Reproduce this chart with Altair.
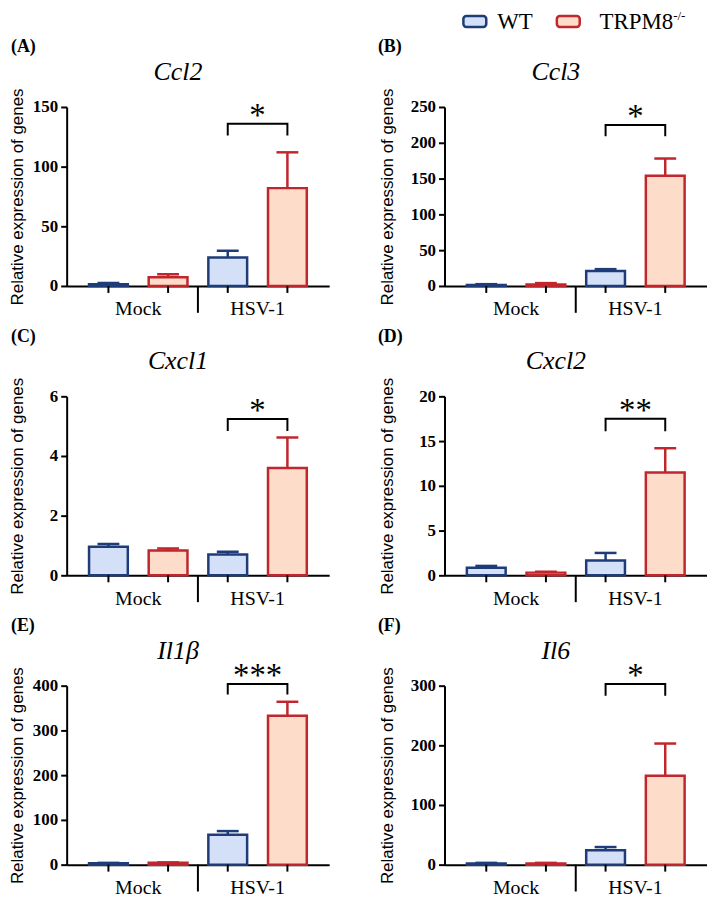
import altair as alt
import pandas as pd

# ---------------- data ----------------
genes = ["Ccl2", "Ccl3", "Cxcl1", "Cxcl2", "Il1β", "Il6"]
letters = ["(A)", "(B)", "(C)", "(D)", "(E)", "(F)"]
groups = ["Mock", "HSV-1"]
genotypes = ["WT", "TRPM8"]

wt_mock = [1.5, 1.5, 0.96, 0.85, 3, 2]
wt_mock_err = [2.5, 2.5, 1.05, 1.05, 4, 3]
trpm_mock = [7.4, 2.0, 0.83, 0.3, 4, 2]
trpm_mock_err = [9.8, 4.0, 0.9, 0.4, 5, 3]
wt_hsv = [23.8, 21, 0.7, 1.65, 67, 24]
wt_hsv_err = [29.5, 23.5, 0.79, 2.5, 75, 29.5]
trpm_hsv = [82, 154, 3.6, 11.5, 333, 149]
trpm_hsv_err = [112, 178, 4.62, 14.2, 364, 203]

y_max = [150, 250, 6, 20, 400, 300]
y_ticks = [
    [0, 50, 100, 150],
    [0, 50, 100, 150, 200, 250],
    [0, 2, 4, 6],
    [0, 5, 10, 15, 20],
    [0, 100, 200, 300, 400],
    [0, 100, 200, 300],
]
sig_labels = ["*", "*", "*", "**", "***", "*"]
sig_top = [136, 225, 5.24, 17.5, 404, 303]
sig_bottom = [126, 209, 4.84, 16.1, 380, 283]

legend_labels = ["WT", "TRPM8"]
legend_sup = "-/-"

# ---------------- style ----------------
W, H = 264, 180
TICK_PX = 7
FILL = ["#d3e0f7", "#fddcca"]
STROKE = ["#1d3c78", "#c0262c"]
SERIF = "Liberation Serif"
SANS = "Liberation Sans"


def panel(i):
    col = i % 2
    rows = [
        ("Mock", "WT", wt_mock[i], wt_mock_err[i]),
        ("Mock", "TRPM8", trpm_mock[i], trpm_mock_err[i]),
        ("HSV-1", "WT", wt_hsv[i], wt_hsv_err[i]),
        ("HSV-1", "TRPM8", trpm_hsv[i], trpm_hsv_err[i]),
    ]
    df = pd.DataFrame(rows, columns=["group", "genotype", "value", "err"])

    xscale = alt.Scale(domain=groups, paddingInner=0, paddingOuter=0.1)
    xaxis = alt.Axis(
        title=None, labelAngle=0, ticks=False, tickSize=0,
        labelFont=SERIF, labelFontSize=20, labelFontWeight="normal", labelColor="black",
        labelPadding=13, domainColor="black", domainWidth=2,
    )
    x = alt.X("group:N", scale=xscale, axis=xaxis, sort=groups)
    xo = alt.XOffset("genotype:N", sort=genotypes,
                     scale=alt.Scale(domain=genotypes, paddingInner=0.35, paddingOuter=0.175))

    title_x = -49 if col == 0 else -57
    yscale = alt.Scale(domain=[0, y_max[i]], nice=False, zero=True)
    yaxis = alt.Axis(
        values=y_ticks[i], title="Relative expression of genes",
        titleFont=SANS, titleFontSize=17, titleFontWeight="normal", titleColor="black",
        titleX=title_x, titleY=H / 2, titleAngle=270, titleAlign="center", titleBaseline="middle",
        labelFont=SERIF, labelFontWeight="bold", labelFontSize=17, labelColor="black",
        labelPadding=3, tickSize=6, tickWidth=2, tickColor="black",
        domainColor="black", domainWidth=2, grid=False,
    )

    fill = alt.Fill("genotype:N", scale=alt.Scale(domain=genotypes, range=FILL), legend=None)
    stroke = alt.Stroke("genotype:N", scale=alt.Scale(domain=genotypes, range=STROKE), legend=None)
    color = alt.Color("genotype:N", scale=alt.Scale(domain=genotypes, range=STROKE), legend=None)

    base = alt.Chart(df)
    bars = base.mark_bar(strokeWidth=2.5).encode(
        x=x, xOffset=xo, y=alt.Y("value:Q", scale=yscale, axis=yaxis), fill=fill, stroke=stroke
    )
    errline = base.mark_rule(strokeWidth=2.5).encode(
        x=x, xOffset=xo, y=alt.Y("value:Q", scale=yscale, axis=yaxis), y2="err:Q", stroke=stroke
    )
    caps = base.mark_tick(size=22, thickness=2.5, opacity=1).encode(
        x=x, xOffset=xo, y=alt.Y("err:Q", scale=yscale, axis=yaxis), color=color
    )

    # category ticks below the x axis, one under each bar
    tick_len = y_max[i] * TICK_PX / H
    trows = []
    for g in groups:
        for gt in genotypes:
            trows.append((g, gt, g + gt, 0.0, 0))
            trows.append((g, gt, g + gt, -tick_len, 1))
    tdf = pd.DataFrame(trows, columns=["group", "genotype", "key", "v", "o"])
    xticks = alt.Chart(tdf).mark_line(color="black", strokeWidth=2, clip=False).encode(
        x=x, xOffset=xo, y=alt.Y("v:Q", scale=yscale, axis=yaxis), detail="key:N", order="o:Q"
    )

    sep = alt.Chart(pd.DataFrame({"group": ["HSV-1"]})).mark_rule(strokeWidth=2, color="black").encode(
        x=alt.X("group:N", scale=xscale, axis=xaxis, bandPosition=0, sort=groups),
        y=alt.value(H), y2=alt.value(H + 27),
    )
    br = pd.DataFrame({
        "group": ["HSV-1"] * 4,
        "genotype": ["WT", "WT", "TRPM8", "TRPM8"],
        "v": [sig_bottom[i], sig_top[i], sig_top[i], sig_bottom[i]],
        "o": [0, 1, 2, 3],
    })
    bracket = alt.Chart(br).mark_line(color="black", strokeWidth=2).encode(
        x=x, xOffset=xo, y=alt.Y("v:Q", scale=yscale, axis=yaxis), order="o:Q"
    )
    sig = alt.Chart(pd.DataFrame({"group": ["HSV-1"], "v": [sig_top[i]], "t": [sig_labels[i]]})).mark_text(
        font=SERIF, fontSize=33, baseline="alphabetic", align="center", color="black", dy=2
    ).encode(x=x, y=alt.Y("v:Q", scale=yscale, axis=yaxis), text="t:N")

    letter_x = -56 if col == 0 else -67
    letter = alt.Chart(pd.DataFrame({"t": [letters[i]]})).mark_text(
        font=SERIF, fontSize=18, fontWeight="bold", align="left", baseline="middle", color="black"
    ).encode(text="t:N", x=alt.value(letter_x), y=alt.value(-60))
    gene = alt.Chart(pd.DataFrame({"t": [genes[i]]})).mark_text(
        font=SERIF, fontSize=26, fontStyle="italic", align="center", baseline="middle", color="black"
    ).encode(text="t:N", x=alt.value(W / 2 - 20), y=alt.value(-35))

    layers = [bars, errline, caps, xticks, sep, bracket, sig, letter, gene]

    if i == 1:
        ly = -86
        leg_rect_wt = alt.Chart(pd.DataFrame({"g": ["WT"]})).mark_rect(
            cornerRadius=3, strokeWidth=2.5, fill=FILL[0], stroke=STROKE[0]
        ).encode(x=alt.value(19), x2=alt.value(42), y=alt.value(ly - 5.5), y2=alt.value(ly + 5.5))
        leg_rect_tr = alt.Chart(pd.DataFrame({"g": ["TRPM8"]})).mark_rect(
            cornerRadius=3, strokeWidth=2.5, fill=FILL[1], stroke=STROKE[1]
        ).encode(x=alt.value(113), x2=alt.value(136), y=alt.value(ly - 5.5), y2=alt.value(ly + 5.5))
        leg_t1 = alt.Chart(pd.DataFrame({"t": [legend_labels[0]]})).mark_text(
            font=SERIF, fontSize=23, align="left", baseline="middle", color="black"
        ).encode(text="t:N", x=alt.value(53), y=alt.value(ly + 1))
        leg_t2 = alt.Chart(pd.DataFrame({"t": [legend_labels[1]]})).mark_text(
            font=SERIF, fontSize=23, align="left", baseline="middle", color="black"
        ).encode(text="t:N", x=alt.value(156), y=alt.value(ly + 1))
        leg_sup = alt.Chart(pd.DataFrame({"t": [legend_sup]})).mark_text(
            font=SERIF, fontSize=13, align="left", baseline="middle", color="black"
        ).encode(text="t:N", x=alt.value(230), y=alt.value(ly - 5))
        layers += [leg_rect_wt, leg_rect_tr, leg_t1, leg_t2, leg_sup]

    return alt.layer(*layers).properties(width=W, height=H)


panels = [panel(i) for i in range(6)]

chart = (
    alt.concat(*panels, columns=2, spacing={"row": 111, "column": 116}, bounds="flush", padding=0)
    .configure_view(stroke=None)
    .configure_axis(labelFont=SERIF, titleFont=SANS, labelColor="black", titleColor="black")
    .configure_axisX(labelFontSize=20, labelFontWeight="normal")
    .configure_axisY(labelFontSize=17, labelFontWeight="bold", titleFontSize=17, titleFontWeight="normal")
)

chart.save("out.html", embed_options={"renderer": "svg", "actions": False})
